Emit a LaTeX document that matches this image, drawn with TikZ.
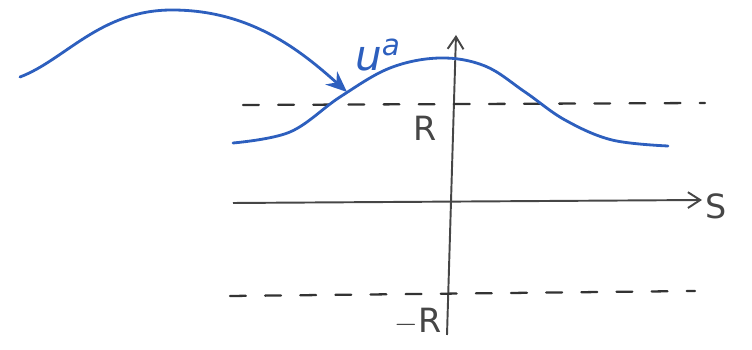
\documentclass[tikz,border=0pt]{standalone}
\usepackage{fontspec}
\setmainfont{DejaVu Sans}
\usetikzlibrary{arrows.meta}
\definecolor{penblue}{RGB}{45,95,190}
\definecolor{pengray}{RGB}{70,70,70}
\tikzset{
  axisline/.style={draw=pengray, line width=1.1pt, -{Straight Barb[length=7pt,width=9pt]}},
  dashline/.style={draw=black!80, line width=1.3pt, dash pattern=on 9pt off 11pt, line cap=round},
  curveline/.style={draw=penblue, line width=1.6pt, line cap=round},
  lbl/.style={inner sep=0pt, font=\fontsize{19}{19}\selectfont, text=pengray},
}
\begin{document}
\begin{tikzpicture}[x=0.02cm, y=-0.02cm]
\useasboundingbox (0,0) rectangle (752,350);
% axes
\coordinate (v0) at (447,335);
\coordinate (v1) at (456,35);
\coordinate (h0) at (233,203);
\coordinate (h1) at (702,200);
\draw[axisline] (h0) -- (h1);
\draw[axisline] (v0) -- (v1);
\node[lbl] (S) at (716,206) {S};
% dashed lines
\coordinate (d1a) at (243,105);
\coordinate (d1b) at (705,103);
\coordinate (d2a) at (230,296);
\coordinate (d2b) at (695,291);
\draw[dashline] (d1a) -- (d1b);
\draw[dashline] (d2a) -- (d2b);
\node[lbl] (R) at (425,128) {R};
\node[lbl] (mR) at (418,322) {$-$R};
% blue curve
\draw[curveline] plot[smooth, tension=0.6] coordinates {(233,143) (290,132) (340,97) (390,68) (440,58) (485,66) (525,92) (565,120) (612,140) (668,146)};
% blue arrow
\coordinate (b0) at (20,77);
\coordinate (bm) at (172,10);
\coordinate (b1) at (347,92);
\draw[curveline, -{Stealth[length=12pt,width=10pt]}] (b0) .. controls (65,60) and (100,10) .. (bm) .. controls (250,10) and (300,50) .. (b1);
\node[lbl, text=penblue, font=\fontsize{24}{24}\selectfont\itshape] (u) at (378,55) {u$^{\mathit{a}}$};
\end{tikzpicture}
\end{document}
